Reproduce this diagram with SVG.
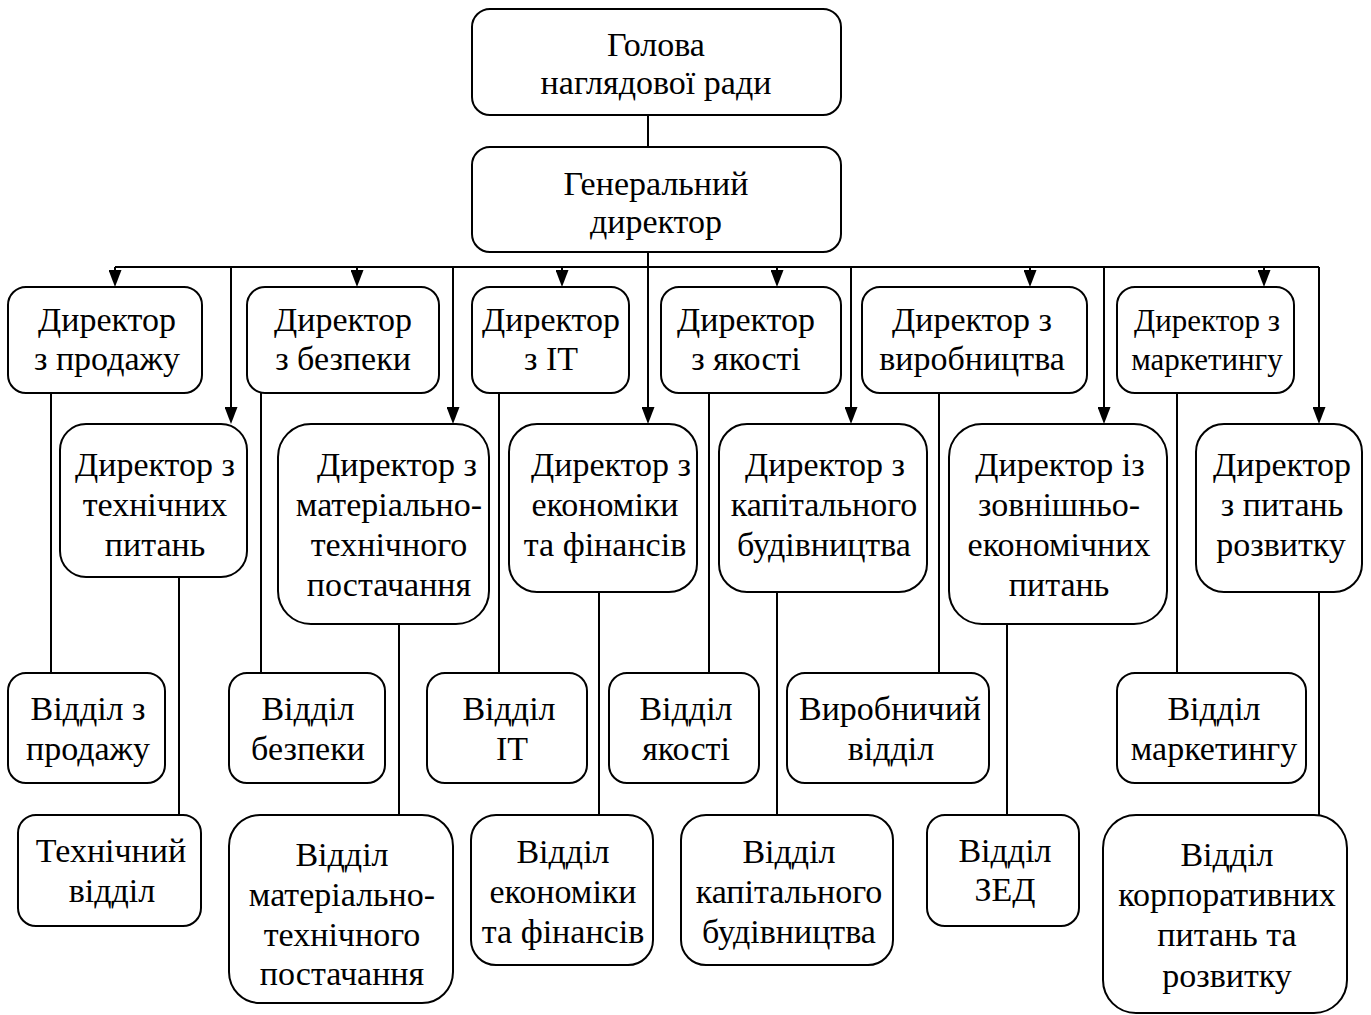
<svg xmlns="http://www.w3.org/2000/svg" width="1371" height="1015" viewBox="0 0 1371 1015">
<style>
.b{fill:#fff;stroke:#000;stroke-width:2}
.t{font-family:"Liberation Serif","Times New Roman",serif;font-size:34px;text-anchor:middle;fill:#000}
.s{font-size:31px}
.c{fill:none;stroke:#000;stroke-width:2}
.a{marker-end:url(#ah)}
</style>
<defs>
<marker id="ah" viewBox="0 0 17 13" refX="14" refY="6.5" markerWidth="17" markerHeight="13" orient="auto" markerUnits="userSpaceOnUse">
<path d="M0,0 L17,6.5 L0,13 z" fill="#000"/>
</marker>
</defs>
<rect width="1371" height="1015" fill="#fff"/>
<g id="connectors">
<path class="c" d="M648,115 V147 M648,252 V267 M115,267 H1319"/>
<path class="c a" d="M115,267 V284"/>
<path class="c a" d="M357,267 V284"/>
<path class="c a" d="M562,267 V284"/>
<path class="c a" d="M777,267 V284"/>
<path class="c a" d="M1030,267 V284"/>
<path class="c a" d="M1264,267 V284"/>
<path class="c a" d="M231,267 V421"/>
<path class="c a" d="M453,267 V421"/>
<path class="c a" d="M648,267 V421"/>
<path class="c a" d="M851,267 V421"/>
<path class="c a" d="M1104,267 V421"/>
<path class="c a" d="M1319,267 V421"/>
<path class="c" d="M51,393 V673 M179,577 V815 M261,393 V673 M399,624 V815 M499,393 V673 M599,592 V815 M709,393 V673 M777,592 V815 M939,393 V673 M1007,624 V815 M1177,393 V673 M1319,592 V815"/>
</g>
<g id="n-head"><rect class="b" x="472" y="9" width="369" height="106" rx="18"/><text class="t" x="656" y="56">Голова</text><text class="t" x="656" y="94">наглядової ради</text></g>
<g id="n-gd"><rect class="b" x="472" y="147" width="369" height="105" rx="18"/><text class="t" x="656" y="195">Генеральний</text><text class="t" x="656" y="233">директор</text></g>

<g id="d-sales"><rect class="b" x="8" y="287" width="194" height="106" rx="18"/><text class="t" x="107" y="331">Директор</text><text class="t" x="107" y="370">з продажу</text></g>
<g id="d-security"><rect class="b" x="247" y="287" width="192" height="106" rx="18"/><text class="t" x="343" y="331">Директор</text><text class="t" x="343" y="370">з безпеки</text></g>
<g id="d-it"><rect class="b" x="472" y="287" width="157" height="106" rx="18"/><text class="t" x="551" y="331">Директор</text><text class="t" x="551" y="370">з ІТ</text></g>
<g id="d-quality"><rect class="b" x="661" y="287" width="180" height="106" rx="18"/><text class="t" x="746" y="331">Директор</text><text class="t" x="746" y="370">з якості</text></g>
<g id="d-production"><rect class="b" x="862" y="287" width="225" height="106" rx="18"/><text class="t" x="972" y="331">Директор з</text><text class="t" x="972" y="370">виробництва</text></g>
<g id="d-marketing"><rect class="b" x="1117" y="287" width="177" height="106" rx="18"/><text class="t s" x="1207" y="331">Директор з</text><text class="t s" x="1207" y="370">маркетингу</text></g>

<g id="e-tech"><rect class="b" x="60" y="424" width="187" height="153" rx="26"/><text class="t" x="155" y="476">Директор з</text><text class="t" x="155" y="516">технічних</text><text class="t" x="155" y="556">питань</text></g>
<g id="e-supply"><rect class="b" x="278" y="424" width="211" height="200" rx="33"/><text class="t" x="397" y="476">Директор з</text><text class="t" x="389" y="516">матеріально-</text><text class="t" x="389" y="556">технічного</text><text class="t" x="389" y="596">постачання</text></g>
<g id="e-finance"><rect class="b" x="509" y="424" width="188" height="168" rx="28"/><text class="t" x="611" y="476">Директор з</text><text class="t" x="605" y="516">економіки</text><text class="t" x="605" y="556">та фінансів</text></g>
<g id="e-construction"><rect class="b" x="719" y="424" width="208" height="168" rx="28"/><text class="t" x="825" y="476">Директор з</text><text class="t" x="824" y="516">капітального</text><text class="t" x="824" y="556">будівництва</text></g>
<g id="e-foreign"><rect class="b" x="949" y="424" width="218" height="200" rx="33"/><text class="t" x="1060" y="476">Директор із</text><text class="t" x="1059" y="516">зовнішньо-</text><text class="t" x="1059" y="556">економічних</text><text class="t" x="1059" y="596">питань</text></g>
<g id="e-development"><rect class="b" x="1196" y="424" width="166" height="168" rx="28"/><text class="t" x="1282" y="476">Директор</text><text class="t" x="1282" y="516">з питань</text><text class="t" x="1281" y="556">розвитку</text></g>

<g id="f-sales"><rect class="b" x="8" y="673" width="157" height="110" rx="18"/><text class="t" x="88" y="720">Відділ з</text><text class="t" x="88" y="760">продажу</text></g>
<g id="f-security"><rect class="b" x="229" y="673" width="156" height="110" rx="18"/><text class="t" x="308" y="720">Відділ</text><text class="t" x="308" y="760">безпеки</text></g>
<g id="f-it"><rect class="b" x="427" y="673" width="160" height="110" rx="18"/><text class="t" x="509" y="720">Відділ</text><text class="t" x="512" y="760">ІТ</text></g>
<g id="f-quality"><rect class="b" x="609" y="673" width="150" height="110" rx="18"/><text class="t" x="686" y="720">Відділ</text><text class="t" x="686" y="760">якості</text></g>
<g id="f-production"><rect class="b" x="787" y="673" width="202" height="110" rx="18"/><text class="t" x="890" y="720">Виробничий</text><text class="t" x="891" y="760">відділ</text></g>
<g id="f-marketing"><rect class="b" x="1117" y="673" width="189" height="110" rx="18"/><text class="t" x="1214" y="720">Відділ</text><text class="t" x="1214" y="760">маркетингу</text></g>

<g id="g-tech"><rect class="b" x="18" y="815" width="183" height="111" rx="18"/><text class="t" x="111" y="862">Технічний</text><text class="t" x="112" y="902">відділ</text></g>
<g id="g-supply"><rect class="b" x="229" y="815" width="224" height="188" rx="31"/><text class="t" x="342" y="866">Відділ</text><text class="t" x="342" y="906">матеріально-</text><text class="t" x="342" y="946">технічного</text><text class="t" x="342" y="985">постачання</text></g>
<g id="g-finance"><rect class="b" x="471" y="815" width="182" height="150" rx="25"/><text class="t" x="563" y="863">Відділ</text><text class="t" x="563" y="903">економіки</text><text class="t" x="563" y="943">та фінансів</text></g>
<g id="g-construction"><rect class="b" x="681" y="815" width="212" height="150" rx="25"/><text class="t" x="789" y="863">Відділ</text><text class="t" x="789" y="903">капітального</text><text class="t" x="789" y="943">будівництва</text></g>
<g id="g-foreign"><rect class="b" x="927" y="815" width="152" height="111" rx="18"/><text class="t" x="1005" y="862">Відділ</text><text class="t" x="1005" y="901">ЗЕД</text></g>
<g id="g-corporate"><rect class="b" x="1103" y="815" width="244" height="198" rx="33"/><text class="t" x="1227" y="866">Відділ</text><text class="t" x="1227" y="906">корпоративних</text><text class="t" x="1227" y="946">питань та</text><text class="t" x="1227" y="987">розвитку</text></g>
</svg>
